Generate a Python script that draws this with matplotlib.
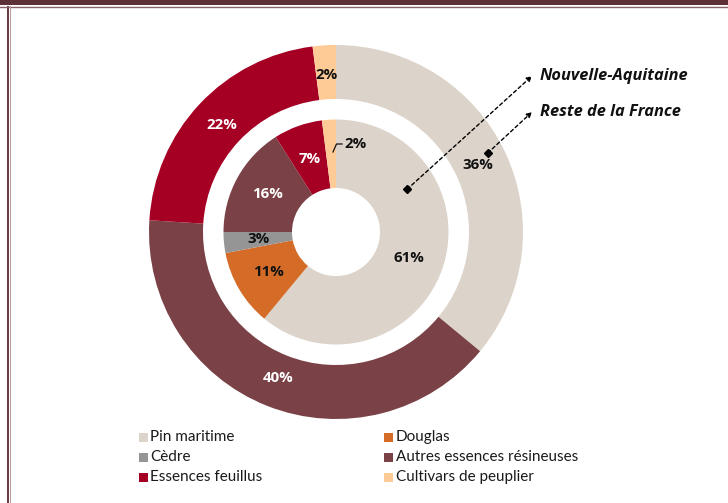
import matplotlib
matplotlib.use("Agg")
import matplotlib.pyplot as plt
from matplotlib.patches import Rectangle
import numpy as np

categories = ["Pin maritime", "Douglas", "Cèdre", "Autres essences résineuses",
              "Essences feuillus", "Cultivars de peuplier"]
colors = ["#DCD4CB", "#D46C28", "#959595", "#7A4247", "#A50024", "#FECB97"]
label_colors = ["#111111", "#111111", "#111111", "white", "white", "#111111"]
outer_values = [36, 0, 0, 40, 22, 2]   # Reste de la France
inner_values = [61, 11, 3, 16, 7, 2]   # Nouvelle-Aquitaine
series_names = ["Nouvelle-Aquitaine", "Reste de la France"]

plt.rcParams['font.family'] = ['Lato', 'DejaVu Sans']
LBL_FONT = ['Open Sans', 'DejaVu Sans']

W, H = 728, 503
fig = plt.figure(figsize=(W / 100, H / 100), dpi=100)
ax = fig.add_axes([0, 0, 1, 1])

cx, cy = 336, H - 232
R_out, w_out = 187, 54
R_in, w_in = 112.5, 68.5

pct = lambda p: f"{round(p)}%" if p >= 0.5 else ""

w1, t1, a1 = ax.pie(outer_values, colors=colors, radius=R_out, center=(cx, cy),
                    startangle=90, counterclock=False,
                    wedgeprops=dict(width=w_out, linewidth=0),
                    autopct=pct, pctdistance=157 / R_out, frame=True)
w2, t2, a2 = ax.pie(inner_values, colors=colors, radius=R_in, center=(cx, cy),
                    startangle=90, counterclock=False,
                    wedgeprops=dict(width=w_in, linewidth=0),
                    autopct=pct, pctdistance=78 / R_in, frame=True)
ax.set_xlim(0, W)
ax.set_ylim(0, H)
ax.set_aspect('equal')
ax.axis('off')

for labels in (a1, a2):
    for i, t in enumerate(labels):
        t.set_color(label_colors[i]); t.set_fontsize(10.8); t.set_fontweight('bold')
        t.set_fontfamily(LBL_FONT)

# small inner slice (peuplier) label moved outside with a leader
a2[-1].set_text("")
ax.plot([cx - 3, cx + 0.5, cx + 6], [cy + 80, cy + 88, cy + 88], color='#111111', lw=0.9)
ax.text(cx + 20, cy + 88, f"{inner_values[-1]}%", fontsize=10.8, fontweight='bold',
        family=LBL_FONT, color="#111111", va='center', ha='center')

# series annotations
for (r, ang, ty, name) in [(83, 31, H - 76, series_names[0]), (171, 27.5, H - 112, series_names[1])]:
    px = cx + r * np.cos(np.radians(ang))
    py = cy + r * np.sin(np.radians(ang))
    ax.plot([px], [py], marker='D', color='black', markersize=4)
    ax.annotate("", xy=(532, ty), xytext=(px, py),
                arrowprops=dict(arrowstyle='-|>,head_length=0.3,head_width=0.15', color='black',
                                lw=1, linestyle=(0, (2.5, 2)), shrinkA=0, shrinkB=0))
    ax.text(540, ty, name, fontsize=11.8, fontweight='bold', fontstyle='italic',
            family=LBL_FONT, va='center', ha='left', color='#111111')

# legend
col_x = [143, 388]
row_y = [437, 457, 477]
for i, (cat, col) in enumerate(zip(categories, colors)):
    x = col_x[i % 2]
    y = H - row_y[i // 2]
    ax.add_patch(Rectangle((x - 4.5, y - 4.5), 9, 9, color=col, lw=0))
    ax.text(x + 7.5, y, cat, fontsize=11, va='center', ha='left', color='#1a1a1a')

# frame
ax.add_patch(Rectangle((0, H - 5), W, 5, color='#5E3139', lw=0))
ax.plot([0, W], [H - 6.5, H - 6.5], color='#8A6268', lw=1)
ax.add_patch(Rectangle((6.5, 0), 2, H - 6, color='#6B3C43', lw=0))
ax.plot([9.5, 9.5], [0, H - 6], color='#B79EA2', lw=0.8)

fig.savefig("out.png", dpi=100)
